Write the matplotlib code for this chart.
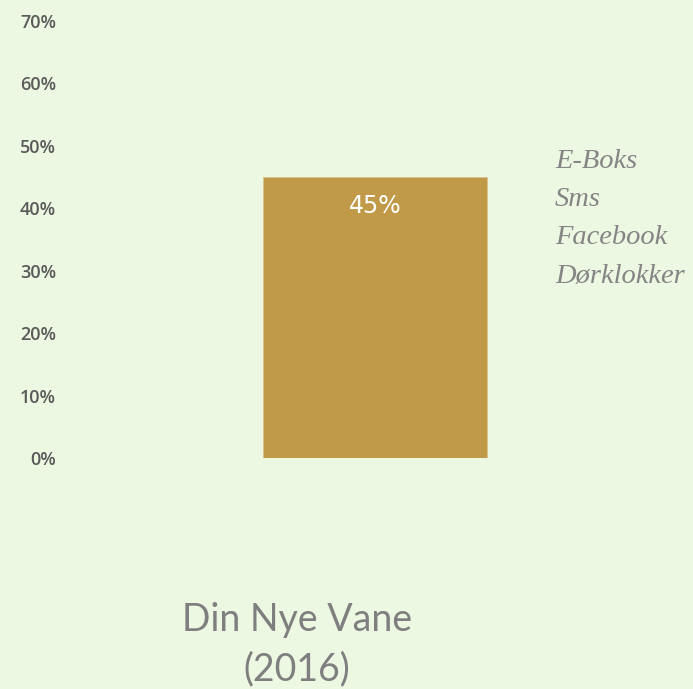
import matplotlib.pyplot as plt
from matplotlib.ticker import PercentFormatter

# data
categories = ['Din Nye Vane\n(2016)']
values = [0.45]
value_labels = ['45%']
legend_items = ['E-Boks', 'Sms', 'Facebook', 'Dørklokker']
yticks = [0, 0.1, 0.2, 0.3, 0.4, 0.5, 0.6, 0.7]

bg = '#EDF8E3'
W, H = 693, 689
fig = plt.figure(figsize=(W / 100, H / 100), dpi=100, facecolor=bg)
# axes placed in pixel coords: y 0% at 458 px, 70% at 21 px
ax = fig.add_axes([70 / W, 1 - 458 / H, 610 / W, (458 - 21) / H], facecolor=bg)

bars = ax.bar([0], values, width=0.734, color='#C09A48', edgecolor='#D9C48F', linewidth=0.6)
for b, lab in zip(bars, value_labels):
    ax.text(b.get_x() + b.get_width() / 2, b.get_height() - 0.046, lab,
            ha='center', va='center', color='white', fontsize=17,
            family='DejaVu Sans')

ax.set_xlim(-1, 1)
ax.set_ylim(0, 0.7)
ax.set_yticks(yticks)
ax.yaxis.set_major_formatter(PercentFormatter(1.0, decimals=0))
ax.tick_params(axis='y', length=0, pad=10, labelsize=13, labelcolor='#5A5A5A')
for t in ax.get_yticklabels():
    t.set_family('Open Sans')
    t.set_fontweight('semibold')
ax.set_xticks([])
for s in ax.spines.values():
    s.set_visible(False)

# category label under the plot
fig.text(297 / W, 1 - 645 / H, categories[0], ha='center', va='center',
         fontsize=27, color='#7F7F7F', family='Lato', linespacing=1.45)

# legend-like list on the right
for i, item in enumerate(legend_items):
    fig.text(555 / W, 1 - (162 + 38 * i) / H, item, ha='left', va='center',
             fontsize=20.5, color='#858585', family='Liberation Serif', style='italic')

fig.savefig('out.png', dpi=100, facecolor=bg)
